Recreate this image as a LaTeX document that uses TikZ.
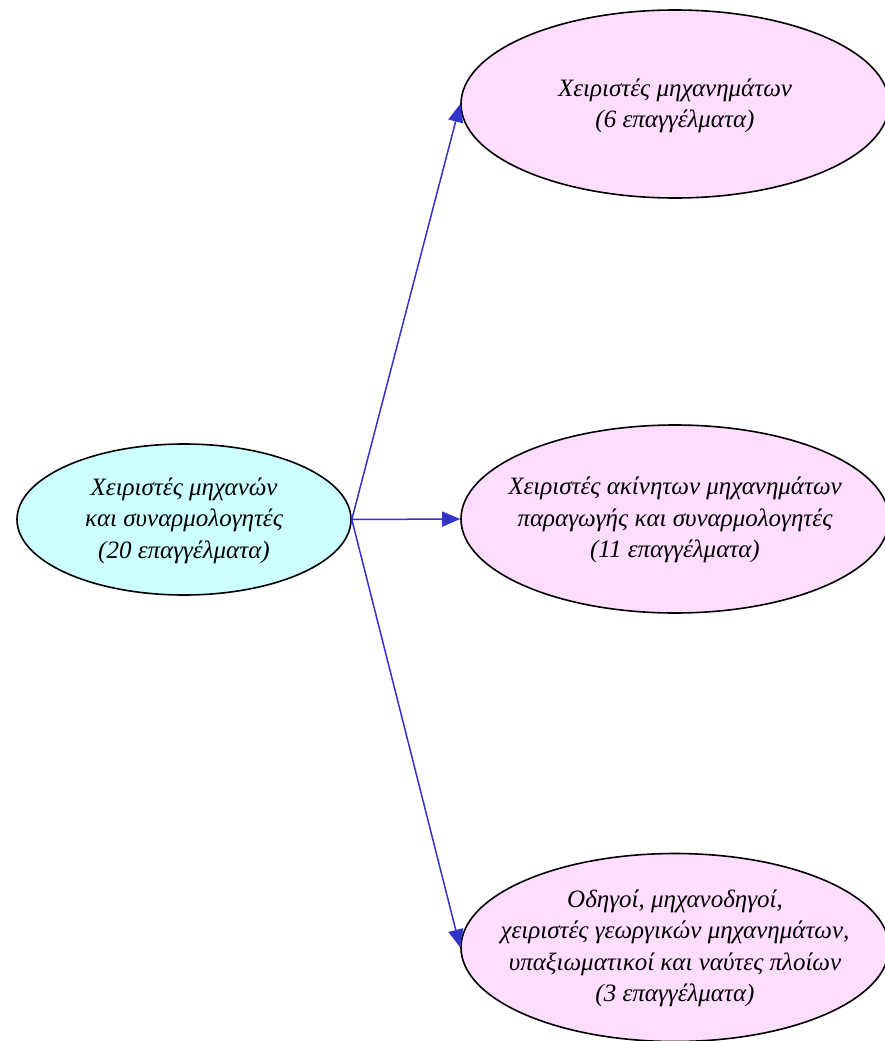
\documentclass[tikz,border=0pt]{standalone}
\usepackage{fontspec}
\setmainfont{Liberation Serif}
\usetikzlibrary{shapes.geometric,arrows.meta}
\definecolor{srcfill}{RGB}{204,255,255}
\definecolor{dstfill}{RGB}{255,221,255}
\definecolor{edgeblue}{RGB}{51,51,204}
\begin{document}
\begin{tikzpicture}[x=1pt,y=-1pt,
  ell/.style={ellipse, draw=black, line width=1.6pt, inner sep=0pt},
  txt/.style={align=center, inner sep=0pt, font=\fontsize{25}{31.5}\selectfont\itshape},
  src/.style={ell, fill=srcfill, minimum width=334pt, minimum height=151pt},
  dst/.style={ell, fill=dstfill, minimum width=428pt, minimum height=188pt},
  conn/.style={draw=edgeblue, line width=1.5pt,
    -{Triangle[length=18pt,width=15pt]}}]
\useasboundingbox (0,0) rectangle (885,1041);
\node[src] (a) at (184,519.5) {};
\node[txt] (at) at ([yshift=-1pt]a.center) {Χειριστές μηχανών\\και συναρμολογητές\\ (20 επαγγέλματα)};
\node[dst] (b) at (675,104) {};
\node[txt] (bt) at ([yshift=-2pt]b.center) {Χειριστές μηχανημάτων\\(6 επαγγέλματα)};
\node[dst] (c) at (675,519) {};
\node[txt] (ct) at ([yshift=-1pt]c.center) {Χειριστές ακίνητων μηχανημάτων\\παραγωγής και συναρμολογητές\\(11 επαγγέλματα)};
\node[dst] (d) at (675,947.5) {};
\node[txt] (dt) at ([yshift=-1pt]d.center) {Οδηγοί, μηχανοδηγοί,\\χειριστές γεωργικών μηχανημάτων,\\υπαξιωματικοί και ναύτες πλοίων\\(3 επαγγέλματα)};
\coordinate (o) at (a.east);
\draw[conn] (o) -- (b.west);
\draw[conn] (o) -- (c.west);
\draw[conn] (o) -- (d.west);
\end{tikzpicture}
\end{document}
